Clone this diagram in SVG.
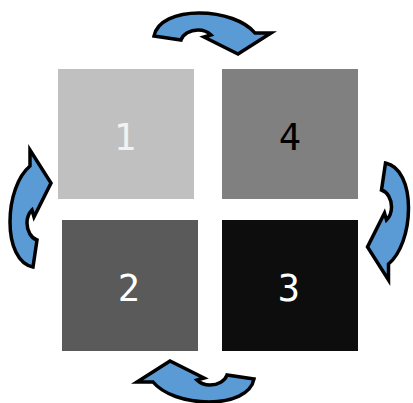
<svg xmlns="http://www.w3.org/2000/svg" width="413" height="403" viewBox="0 0 413 403">
<defs>
<style>
.lbl{font-family:"DejaVu Sans Mono","Liberation Mono",monospace;font-size:37px;text-anchor:middle;dominant-baseline:central}
.arr{fill:#5b9bd5;stroke:#000;stroke-width:3.5;stroke-linejoin:miter}
</style>
<path id="curv" class="arr" d="M154,36 C157,21 176,13 199,13 C223,13 245,21 255,33 L271,33 L238,54 L204,37 L211,35 C207,31 204,30 198,30 C190,30 183,34 181,40 Z"/>
</defs>
<rect width="413" height="403" fill="#fff"/>
<g id="node1"><rect x="58" y="69" width="136" height="130" fill="#c0c0c0"/><text class="lbl" x="125" y="137" fill="#f2f2f2">1</text></g>
<g id="node4"><rect x="222" y="69" width="136" height="130" fill="#808080"/><text class="lbl" x="290" y="137" fill="#000">4</text></g>
<g id="node2"><rect x="62" y="220" width="136" height="131" fill="#5a5a5a"/><text class="lbl" x="129" y="288" fill="#fff">2</text></g>
<g id="node3"><rect x="222" y="220" width="136" height="131" fill="#0d0d0d"/><text class="lbl" x="289" y="288" fill="#fff">3</text></g>
<g id="connectors">
<use href="#curv"/>
<use href="#curv" transform="rotate(90 206.25 215.25)"/>
<use href="#curv" transform="rotate(180 204 207.5)"/>
<use href="#curv" transform="rotate(-90 209 212)"/>
</g>
</svg>
